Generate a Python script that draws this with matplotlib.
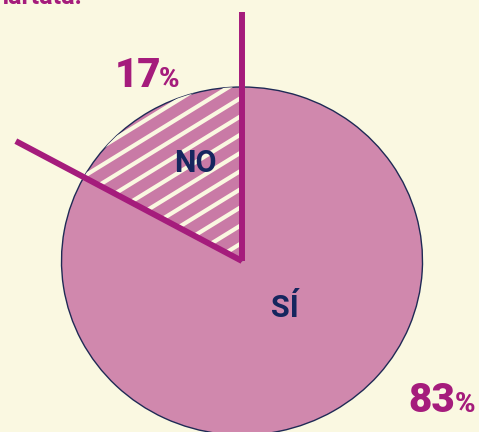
import numpy as np
import matplotlib.pyplot as plt

# datos del gráfico
etiquetas = ["NO", "SÍ"]
porcentajes = [17, 83]
colores = ["#c97aa6", "#d088ad"]

BG = "#faf8e1"
MAGENTA = "#a51c7c"
NAVY = "#15265e"

fig = plt.figure(figsize=(4.79, 4.32), dpi=100, facecolor=BG)
ax = fig.add_axes([0, 0, 1, 1])
ax.set_facecolor(BG)

wedges, _ = ax.pie(porcentajes, colors=colores, startangle=90, counterclock=True,
                   radius=1, center=(0, 0),
                   wedgeprops=dict(edgecolor="#1f2a55", linewidth=1.0))
ax.set_aspect("auto")
# the original pie is a bit squashed, so keep x and y scales different
rx, ry = 180.5, 174.0
ax.set_xlim(-242 / rx, 237 / rx)
ax.set_ylim(-(432 - 261) / ry, 261 / ry)
ax.axis("off")

# stripes over the NO slice
ang = np.deg2rad(31.6)
d = np.array([np.cos(ang) / rx, np.sin(ang) / ry])
n = np.array([-np.sin(ang) / rx, np.cos(ang) / ry])
paso = 15.5
for k in range(-20, 21):
    p0 = k * paso * n - 400 * d
    p1 = k * paso * n + 400 * d
    ln, = ax.plot([p0[0], p1[0]], [p0[1], p1[1]], color=BG, lw=3.0,
                  solid_capstyle="butt", zorder=3)
    ln.set_clip_path(wedges[0])

# thick lines along the edges of the NO slice
a_ini = 90
a_fin = 90 + 360 * porcentajes[0] / sum(porcentajes)
largo = 1.43
for a in (a_ini, a_fin):
    t = np.deg2rad(a)
    ax.plot([0, largo * np.cos(t)], [0, largo * np.sin(t)], color=MAGENTA,
            lw=4.3, solid_capstyle="butt", zorder=4)

fam = ["Roboto", "DejaVu Sans"]
ax.text(-47 / rx, (261 - 163) / ry, etiquetas[0], color=NAVY, fontsize=22,
        fontweight="bold", family=fam, ha="center", va="center", zorder=5)
ax.text(43 / rx, (261 - 308) / ry, etiquetas[1], color=NAVY, fontsize=22,
        fontweight="bold", family=fam, ha="center", va="center", zorder=5)

ax.text(-127 / rx, (261 - 87) / ry, str(porcentajes[0]), color=MAGENTA,
        fontsize=29, fontweight="heavy", family=fam, ha="left", va="baseline")
ax.text(-83 / rx, (261 - 87) / ry, "%", color=MAGENTA, fontsize=20,
        fontweight="heavy", family=fam, ha="left", va="baseline")
ax.text(166 / rx, (261 - 412) / ry, str(porcentajes[1]), color=MAGENTA,
        fontsize=29, fontweight="heavy", family=fam, ha="left", va="baseline")
ax.text(213 / rx, (261 - 412) / ry, "%", color=MAGENTA, fontsize=20,
        fontweight="heavy", family=fam, ha="left", va="baseline")

# cut-off line of text at the top
fig.text(-0.01, 1 - 3.5 / 432, "nartata.", color=MAGENTA, fontsize=18,
         fontweight="bold", family=fam, ha="left", va="baseline")

fig.savefig("out.png", dpi=100, facecolor=BG)
